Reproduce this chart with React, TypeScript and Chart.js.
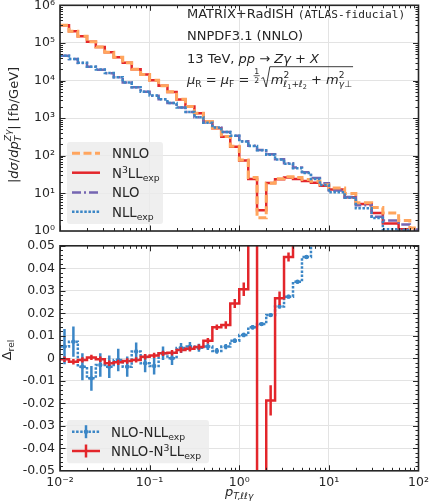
import React, { useEffect, useRef } from "react";
import { Chart, registerables } from "chart.js";

Chart.register(...registerables);

// ---------------- data ----------------
const binEdges = [
  0.01, 0.0126, 0.0158, 0.02, 0.0251, 0.0316, 0.0398, 0.0501, 0.0631, 0.0794,
  0.1, 0.126, 0.158, 0.2, 0.251, 0.316, 0.398, 0.501, 0.631, 0.794,
  1, 1.26, 1.58, 2, 2.51, 3.16, 3.98, 5.01, 6.31, 7.94,
  10, 15, 20, 30, 40, 60, 80, 100,
];

const nnloValues = [
  295000, 204000, 151000, 107000, 77600, 56200, 41700, 29500, 20000, 14500,
  10200, 7240, 5010, 3160, 2040, 1350, 813, 550, 324, 178,
  77.6, 26.3, 2.24, 18.6, 24.5, 27.5, 26.3, 23.4, 20.9, 17.0,
  13.8, 10.0, 5.6, 4.2, 3.0, 1.9, 1.2,
];
const n3llValues = [
  294000, 204000, 151000, 107000, 77600, 56300, 41800, 29500, 20000, 14500,
  10200, 7220, 4990, 3150, 2030, 1340, 807, 542, 319, 174,
  75.2, 24.0, 3.55, 19.0, 23.8, 26.3, 24.0, 21.5, 19.3, 16.0,
  12.6, 7.9, 5.2, 3.0, 1.58, 1.12, 0.89,
];
const nloValues = [
  45900, 37500, 29400, 23200, 19400, 15700, 12300, 8880, 6630, 5000,
  3970, 3170, 2510, 1920, 1460, 1060, 763, 564, 429, 342,
  243, 185, 143, 109, 81.2, 63.4, 48.4, 36.3, 25.6, 18.5,
  12.0, 8.0, 4.8, 2.4, 1.9, 1.5, 1.1,
];
const nllValues = [
  45700, 37200, 29500, 23400, 19500, 15800, 12300, 8910, 6610, 5010,
  3980, 3160, 2510, 1910, 1450, 1050, 759, 562, 427, 339,
  240, 182, 141, 107, 79.4, 61.7, 46.8, 34.7, 24.0, 16.6,
  10.7, 7.6, 4.0, 2.2, 1.12, 1.07, 0.85,
];

const deltaNloNll = [
  0.0052, 0.0074, -0.0037, -0.0089, -0.003, -0.0037, -0.0007, -0.0037, 0.003, -0.0022,
  -0.0034, 0.0022, 0.0, 0.0046, 0.0052, 0.0047, 0.0052, 0.0033, 0.0052, 0.0078,
  0.0104, 0.0138, 0.0152, 0.0192, 0.023, 0.0274, 0.034, 0.045, 0.065,
];
const errNloNll = [
  0.0078, 0.0067, 0.006, 0.0055, 0.0052, 0.005, 0.005, 0.0045, 0.004, 0.004,
  0.0038, 0.003, 0.003, 0.0022, 0.002, 0.0018, 0.0015, 0.0013, 0.0012, 0.001,
  0.001, 0.001, 0.0008, 0.0008, 0.0008, 0.0008, 0.0008, 0.0008, 0.0008,
];
const deltaNnloN3ll = [
  -0.0004, -0.0015, -0.0007, 0.0004, -0.0004, -0.0022, -0.0018, -0.0012, -0.0007, 0.0007,
  0.0013, 0.0022, 0.0025, 0.0037, 0.0042, 0.005, 0.0078, 0.0138, 0.0148, 0.0244,
  0.0307, 0.12, -0.58, -0.0187, 0.0267, 0.045, 0.09,
];
const errNnloN3ll = [
  0.0012, 0.0012, 0.0012, 0.0012, 0.0012, 0.0012, 0.0012, 0.0012, 0.0012, 0.0012,
  0.0012, 0.0012, 0.0012, 0.0012, 0.0012, 0.0012, 0.0012, 0.0012, 0.0017, 0.002,
  0.003, 0.004, 0.01, 0.0067, 0.003, 0.002, 0.003,
];

const xTickValues = [0.01, 0.1, 1, 10, 100];
const xTickLabels = ["10⁻²", "10⁻¹", "10⁰", "10¹", "10²"];
const topYTickValues = [1, 10, 100, 1000, 10000, 100000, 1000000];
const topYTickLabels = ["10⁰", "10¹", "10²", "10³", "10⁴", "10⁵", "10⁶"];
const bottomYTickValues = [-0.05, -0.04, -0.03, -0.02, -0.01, 0, 0.01, 0.02, 0.03, 0.04, 0.05];
const bottomYTickLabels = ["-0.05", "-0.04", "-0.03", "-0.02", "-0.01", "0", "0.01", "0.02", "0.03", "0.04", "0.05"];

// ---------------- styles ----------------
const COLORS = {
  nnlo: "#ffa55e",
  n3ll: "#e3262b",
  nlo: "#7566b2",
  nll: "#3b86c6",
};
const FONT = '"DejaVu Sans", sans-serif';
const MONO = '"DejaVu Sans Mono", monospace';
const TXT = "#262626";
const GRID = "#e3e3e3";
const DASH_NNLO = [8, 3.5];
const DASH_NLO = [9, 3, 2, 3];
const DASH_NLL = [2.5, 1.6];

const W = 431;
const TOP_H = 240;
const BOT_H = 264;

// ---------------- helpers ----------------
type Seg = { t: string; it?: boolean; mono?: boolean; s?: number; dy?: number; noAdv?: boolean };

function segFont(seg: Seg, size: number) {
  return `${seg.it ? "italic " : ""}${(size * (seg.s ?? 1)).toFixed(2)}px ${seg.mono ? MONO : FONT}`;
}
function measureRich(ctx: CanvasRenderingContext2D, segs: Seg[], size: number) {
  let w = 0;
  for (const s of segs) {
    ctx.font = segFont(s, size);
    if (!s.noAdv) w += ctx.measureText(s.t).width;
  }
  return w;
}
function drawRich(ctx: CanvasRenderingContext2D, segs: Seg[], x: number, y: number, size: number, color = TXT) {
  ctx.fillStyle = color;
  ctx.textBaseline = "alphabetic";
  ctx.textAlign = "left";
  let cx = x;
  for (const s of segs) {
    ctx.font = segFont(s, size);
    ctx.fillText(s.t, cx, y + (s.dy ?? 0));
    if (!s.noAdv) cx += ctx.measureText(s.t).width;
  }
  return cx;
}

function stepPoints(values: number[]) {
  const pts = values.map((v, i) => ({ x: binEdges[i], y: v }));
  pts.push({ x: binEdges[values.length], y: values[values.length - 1] });
  return pts;
}
function centerPoints(values: number[]) {
  return values.map((v, i) => ({ x: Math.sqrt(binEdges[i] * binEdges[i + 1]), y: v }));
}

function logMinors(d0: number, d1: number) {
  const out: number[] = [];
  for (let d = d0; d < d1; d++) for (let m = 2; m <= 9; m++) out.push(m * Math.pow(10, d));
  return out;
}

function drawFrameAndTicks(chart: any, xMaj: number[], xMin: number[], yMaj: number[], yMin: number[]) {
  const { ctx, chartArea: a, scales } = chart;
  const x = scales.x;
  const y = scales.y;
  ctx.save();
  ctx.strokeStyle = TXT;
  ctx.setLineDash([]);
  const L = 5.5;
  const l = 3;
  ctx.lineWidth = 1;
  const vt = (vals: number[], len: number) => {
    for (const v of vals) {
      const px = Math.round(x.getPixelForValue(v)) + 0.5;
      if (px < a.left + 0.5 || px > a.right - 0.5) continue;
      ctx.beginPath();
      ctx.moveTo(px, a.bottom);
      ctx.lineTo(px, a.bottom - len);
      ctx.moveTo(px, a.top);
      ctx.lineTo(px, a.top + len);
      ctx.stroke();
    }
  };
  const ht = (vals: number[], len: number) => {
    for (const v of vals) {
      const py = Math.round(y.getPixelForValue(v)) + 0.5;
      if (py < a.top + 0.5 || py > a.bottom - 0.5) continue;
      ctx.beginPath();
      ctx.moveTo(a.left, py);
      ctx.lineTo(a.left + len, py);
      ctx.moveTo(a.right, py);
      ctx.lineTo(a.right - len, py);
      ctx.stroke();
    }
  };
  vt(xMaj, L);
  vt(xMin, l);
  ht(yMaj, L);
  ht(yMin, l);
  ctx.lineWidth = 1.6;
  ctx.strokeRect(a.left, a.top, a.right - a.left, a.bottom - a.top);
  ctx.restore();
}

function legendBox(ctx: CanvasRenderingContext2D, x: number, y: number, w: number, h: number) {
  ctx.save();
  ctx.fillStyle = "rgba(236,236,236,0.82)";
  const r = 3;
  ctx.beginPath();
  ctx.moveTo(x + r, y);
  ctx.lineTo(x + w - r, y);
  ctx.quadraticCurveTo(x + w, y, x + w, y + r);
  ctx.lineTo(x + w, y + h - r);
  ctx.quadraticCurveTo(x + w, y + h, x + w - r, y + h);
  ctx.lineTo(x + r, y + h);
  ctx.quadraticCurveTo(x, y + h, x, y + h - r);
  ctx.lineTo(x, y + r);
  ctx.quadraticCurveTo(x, y, x + r, y);
  ctx.closePath();
  ctx.fill();
  ctx.restore();
}

function sampleLine(ctx: CanvasRenderingContext2D, x0: number, x1: number, y: number, color: string, lw: number, dash: number[]) {
  ctx.save();
  ctx.strokeStyle = color;
  ctx.lineWidth = lw;
  ctx.setLineDash(dash);
  ctx.lineCap = "butt";
  ctx.beginPath();
  ctx.moveTo(x0, y);
  ctx.lineTo(x1, y);
  ctx.stroke();
  ctx.restore();
}

const xScaleBase = (height: number, showLabels: boolean) => ({
  type: "logarithmic" as const,
  min: 0.01,
  max: 100,
  afterBuildTicks: (s: any) => {
    s.ticks = xTickValues.map((v) => ({ value: v }));
  },
  afterFit: (s: any) => {
    s.height = height;
    s.paddingLeft = 0;
    s.paddingRight = 0;
  },
  ticks: {
    display: showLabels,
    autoSkip: false,
    maxRotation: 0,
    padding: 4,
    color: TXT,
    font: { family: FONT, size: 12.5 },
    callback: (_v: any, i: number) => xTickLabels[i],
  },
  grid: { color: GRID, lineWidth: 1, drawTicks: false },
  border: { display: false },
});

// ---------------- plugins ----------------
const topDecor = {
  id: "topDecor",
  afterDraw(chart: any) {
    const ctx: CanvasRenderingContext2D = chart.ctx;
    drawFrameAndTicks(chart, xTickValues, logMinors(-2, 2), topYTickValues, logMinors(0, 6));
    ctx.save();
    const fs = 13;
    const x0 = 187;
    // annotations
    drawRich(ctx, [{ t: "MATRIX+RadISH " }, { t: "(ATLAS-fiducial)", mono: true, s: 0.86 }], x0, 17.5, fs);
    drawRich(ctx, [{ t: "NNPDF3.1 (NNLO)" }], x0, 39.5, fs);
    drawRich(
      ctx,
      [{ t: "13 TeV, " }, { t: "pp", it: true }, { t: " → " }, { t: "Zγ", it: true }, { t: " + " }, { t: "X", it: true }],
      x0, 62.5, fs
    );
    const by = 83.5;
    let cx = drawRich(
      ctx,
      [{ t: "μ", it: true }, { t: "R", s: 0.7, dy: 3 }, { t: " = " }, { t: "μ", it: true }, { t: "F", s: 0.7, dy: 3 }, { t: " = " }],
      x0, by, fs
    );
    // fraction 1/2
    ctx.font = `${(fs * 0.6).toFixed(2)}px ${FONT}`;
    const fw = ctx.measureText("1").width;
    ctx.fillStyle = TXT;
    ctx.textAlign = "center";
    ctx.fillText("1", cx + fw / 2 + 0.8, by - 9.5);
    ctx.fillText("2", cx + fw / 2 + 0.8, by - 0.5);
    ctx.strokeStyle = TXT;
    ctx.lineWidth = 0.7;
    ctx.beginPath();
    ctx.moveTo(cx + 0.2, by - 7.8);
    ctx.lineTo(cx + fw + 1.4, by - 7.8);
    ctx.stroke();
    cx += fw + 3;
    // radical
    const rStart = cx;
    const inner: Seg[] = [
      { t: "m", it: true },
      { t: "2", s: 0.7, dy: -6, noAdv: true },
      { t: "ℓ", it: true, s: 0.7, dy: 3.5 },
      { t: "1", s: 0.5, dy: 5 },
      { t: "+", s: 0.7, dy: 3.5 },
      { t: "ℓ", it: true, s: 0.7, dy: 3.5 },
      { t: "2", s: 0.5, dy: 5 },
      { t: " + " },
      { t: "m", it: true },
      { t: "2", s: 0.7, dy: -6, noAdv: true },
      { t: "γ⊥", it: true, s: 0.7, dy: 3.5 },
    ];
    const endX = drawRich(ctx, inner, rStart + 9.5, by, fs);
    ctx.lineWidth = 0.9;
    ctx.beginPath();
    ctx.moveTo(rStart, by - 5);
    ctx.lineTo(rStart + 2, by - 6);
    ctx.lineTo(rStart + 4.8, by + 3.5);
    ctx.lineTo(rStart + 8.5, by - 16.8);
    ctx.lineTo(endX + 1, by - 16.8);
    ctx.stroke();

    // y-axis title (rotated)
    ctx.save();
    const ytitle: Seg[] = [
      { t: "|" },
      { t: "dσ", it: true },
      { t: "/" },
      { t: "dp", it: true },
      { t: "T", it: true, s: 0.7, dy: 3.5, noAdv: true },
      { t: "Zγ", it: true, s: 0.7, dy: -6.5 },
      { t: "| [fb/GeV]" },
    ];
    const tw = measureRich(ctx, ytitle, fs);
    ctx.translate(17.5, 125);
    ctx.rotate(-Math.PI / 2);
    drawRich(ctx, ytitle, -tw / 2, 0, fs);
    ctx.restore();

    // legend
    legendBox(ctx, 67, 142, 96, 82);
    const rows = [
      { y: 153.3, c: COLORS.nnlo, lw: 3, d: DASH_NNLO, lab: [{ t: "NNLO" }] as Seg[] },
      { y: 172.7, c: COLORS.n3ll, lw: 2.5, d: [], lab: [{ t: "N" }, { t: "3", s: 0.7, dy: -5 }, { t: "LL" }, { t: "exp", s: 0.7, dy: 3 }] as Seg[] },
      { y: 192.5, c: COLORS.nlo, lw: 2.5, d: DASH_NLO, lab: [{ t: "NLO" }] as Seg[] },
      { y: 211.7, c: COLORS.nll, lw: 2.5, d: DASH_NLL, lab: [{ t: "NLL" }, { t: "exp", s: 0.7, dy: 3 }] as Seg[] },
    ];
    for (const r of rows) {
      sampleLine(ctx, 72, 100, r.y, r.c, r.lw, r.d);
      drawRich(ctx, r.lab, 112, r.y + 4.8, 13.3);
    }
    ctx.restore();
  },
};

const bottomDecor = {
  id: "bottomDecor",
  afterDatasetsDraw(chart: any) {
    const { ctx, chartArea: a, scales } = chart;
    const x = scales.x;
    const y = scales.y;
    ctx.save();
    ctx.beginPath();
    ctx.rect(a.left, a.top, a.right - a.left, a.bottom - a.top);
    ctx.clip();
    const bars = (vals: number[], errs: number[], color: string) => {
      ctx.strokeStyle = color;
      ctx.lineWidth = 2.5;
      ctx.setLineDash([]);
      vals.forEach((v, i) => {
        const px = x.getPixelForValue(Math.sqrt(binEdges[i] * binEdges[i + 1]));
        ctx.beginPath();
        ctx.moveTo(px, y.getPixelForValue(v - errs[i]));
        ctx.lineTo(px, y.getPixelForValue(v + errs[i]));
        ctx.stroke();
      });
    };
    bars(deltaNloNll, errNloNll, COLORS.nll);
    bars(deltaNnloN3ll, errNnloN3ll, COLORS.n3ll);
    ctx.restore();
  },
  afterDraw(chart: any) {
    const ctx: CanvasRenderingContext2D = chart.ctx;
    const yMinor: number[] = [];
    for (let k = 0; k <= 50; k++) if (k % 5 !== 0) yMinor.push(-0.05 + k * 0.002);
    drawFrameAndTicks(chart, xTickValues, logMinors(-2, 2), bottomYTickValues, yMinor);
    ctx.save();
    // y title
    const yt: Seg[] = [{ t: "Δ" }, { t: "rel", s: 0.7, dy: 3 }];
    const tw = measureRich(ctx, yt, 13);
    ctx.translate(10.5, 110);
    ctx.rotate(-Math.PI / 2);
    drawRich(ctx, yt, -tw / 2, 0, 13);
    ctx.restore();
    // x title
    ctx.save();
    const xt: Seg[] = [{ t: "p", it: true }, { t: "T,ℓℓγ", it: true, s: 0.7, dy: 3 }];
    const xw = measureRich(ctx, xt, 13);
    const a = chart.chartArea;
    drawRich(ctx, xt, (a.left + a.right) / 2 - xw / 2, 256, 13);
    ctx.restore();
    // legend
    ctx.save();
    legendBox(ctx, 67, 180, 142, 43.3);
    const r1 = 191.7;
    const r2 = 211;
    sampleLine(ctx, 72, 100, r1, COLORS.nll, 2.5, DASH_NLL);
    ctx.strokeStyle = COLORS.nll;
    ctx.lineWidth = 2.5;
    ctx.beginPath();
    ctx.moveTo(86, r1 - 6.5);
    ctx.lineTo(86, r1 + 6.5);
    ctx.stroke();
    ctx.fillStyle = COLORS.nll;
    ctx.beginPath();
    ctx.arc(86, r1, 2.2, 0, Math.PI * 2);
    ctx.fill();
    sampleLine(ctx, 72, 100, r2, COLORS.n3ll, 2.5, []);
    ctx.strokeStyle = COLORS.n3ll;
    ctx.beginPath();
    ctx.moveTo(86, r2 - 6.5);
    ctx.lineTo(86, r2 + 6.5);
    ctx.stroke();
    drawRich(ctx, [{ t: "NLO-NLL" }, { t: "exp", s: 0.7, dy: 3 }], 111, r1 + 4.8, 13.3);
    drawRich(ctx, [{ t: "NNLO-N" }, { t: "3", s: 0.7, dy: -5 }, { t: "LL" }, { t: "exp", s: 0.7, dy: 3 }], 111, r2 + 4.8, 13.3);
    ctx.restore();
  },
};

// ---------------- component ----------------
export default function App() {
  const topRef = useRef<HTMLCanvasElement | null>(null);
  const botRef = useRef<HTMLCanvasElement | null>(null);

  useEffect(() => {
    const lineDs = (label: string, values: number[], color: string, lw: number, dash: number[], order: number) => ({
      label,
      data: stepPoints(values),
      borderColor: color,
      backgroundColor: color,
      borderWidth: lw,
      borderDash: dash,
      borderCapStyle: "butt" as const,
      borderJoinStyle: "miter" as const,
      stepped: true,
      pointRadius: 0,
      fill: false,
      order,
    });

    const top = new Chart(topRef.current as HTMLCanvasElement, {
      type: "line",
      data: {
        datasets: [
          lineDs("NNLO", nnloValues, COLORS.nnlo, 3, DASH_NNLO, 1),
          lineDs("N3LL_exp", n3llValues, COLORS.n3ll, 2.5, [], 3),
          lineDs("NLO", nloValues, COLORS.nlo, 2.5, DASH_NLO, 2),
          lineDs("NLL_exp", nllValues, COLORS.nll, 2.5, DASH_NLL, 0),
        ] as any,
      },
      options: {
        responsive: false,
        animation: false,
        devicePixelRatio: 1,
        events: [],
        parsing: false as any,
        layout: { padding: { left: 0, right: W - 418.5, top: 5.3, bottom: 0 } },
        plugins: { legend: { display: false }, tooltip: { enabled: false } },
        scales: {
          x: xScaleBase(TOP_H - 231, false) as any,
          y: {
            type: "logarithmic",
            min: 1,
            max: 1000000,
            afterBuildTicks: (s: any) => {
              s.ticks = topYTickValues.map((v) => ({ value: v }));
            },
            afterFit: (s: any) => {
              s.width = 60;
              s.paddingTop = 0;
              s.paddingBottom = 0;
            },
            ticks: {
              autoSkip: false,
              padding: 5,
              color: TXT,
              font: { family: FONT, size: 12.5 },
              callback: (_v: any, i: number) => topYTickLabels[i],
            },
            grid: { color: GRID, lineWidth: 1, drawTicks: false },
            border: { display: false },
          } as any,
        },
      },
      plugins: [topDecor],
    });

    const bottom = new Chart(botRef.current as HTMLCanvasElement, {
      type: "line",
      data: {
        datasets: [
          lineDs("NNLO-N3LL_exp", deltaNnloN3ll, COLORS.n3ll, 2.5, [], 0),
          lineDs("NLO-NLL_exp", deltaNloNll, COLORS.nll, 2.5, DASH_NLL, 2),
          {
            label: "NLO-NLL_exp markers",
            data: centerPoints(deltaNloNll),
            showLine: false,
            pointRadius: 2.2,
            pointBorderWidth: 0,
            pointBackgroundColor: COLORS.nll,
            borderColor: COLORS.nll,
            borderWidth: 0,
            order: 1,
          },
        ] as any,
      },
      options: {
        responsive: false,
        animation: false,
        devicePixelRatio: 1,
        events: [],
        parsing: false as any,
        layout: { padding: { left: 0, right: W - 418.5, top: 5.8, bottom: 0 } },
        plugins: { legend: { display: false }, tooltip: { enabled: false } },
        scales: {
          x: xScaleBase(BOT_H - 230.8, true) as any,
          y: {
            type: "linear",
            min: -0.05,
            max: 0.05,
            afterBuildTicks: (s: any) => {
              s.ticks = bottomYTickValues.map((v) => ({ value: v }));
            },
            afterFit: (s: any) => {
              s.width = 60;
              s.paddingTop = 0;
              s.paddingBottom = 0;
            },
            ticks: {
              autoSkip: false,
              padding: 5,
              color: TXT,
              font: { family: FONT, size: 12.5 },
              callback: (_v: any, i: number) => bottomYTickLabels[i],
            },
            grid: { color: GRID, lineWidth: 1, drawTicks: false },
            border: { display: false },
          } as any,
        },
      },
      plugins: [bottomDecor],
    });

    return () => {
      top.destroy();
      bottom.destroy();
    };
  }, []);

  return (
    <div style={{ position: "fixed", left: 0, top: 0, width: W, height: TOP_H + BOT_H, background: "#fff" }}>
      <canvas ref={topRef} width={W} height={TOP_H} style={{ position: "absolute", left: 0, top: 0, width: W, height: TOP_H }} />
      <canvas ref={botRef} width={W} height={BOT_H} style={{ position: "absolute", left: 0, top: TOP_H, width: W, height: BOT_H }} />
    </div>
  );
}
